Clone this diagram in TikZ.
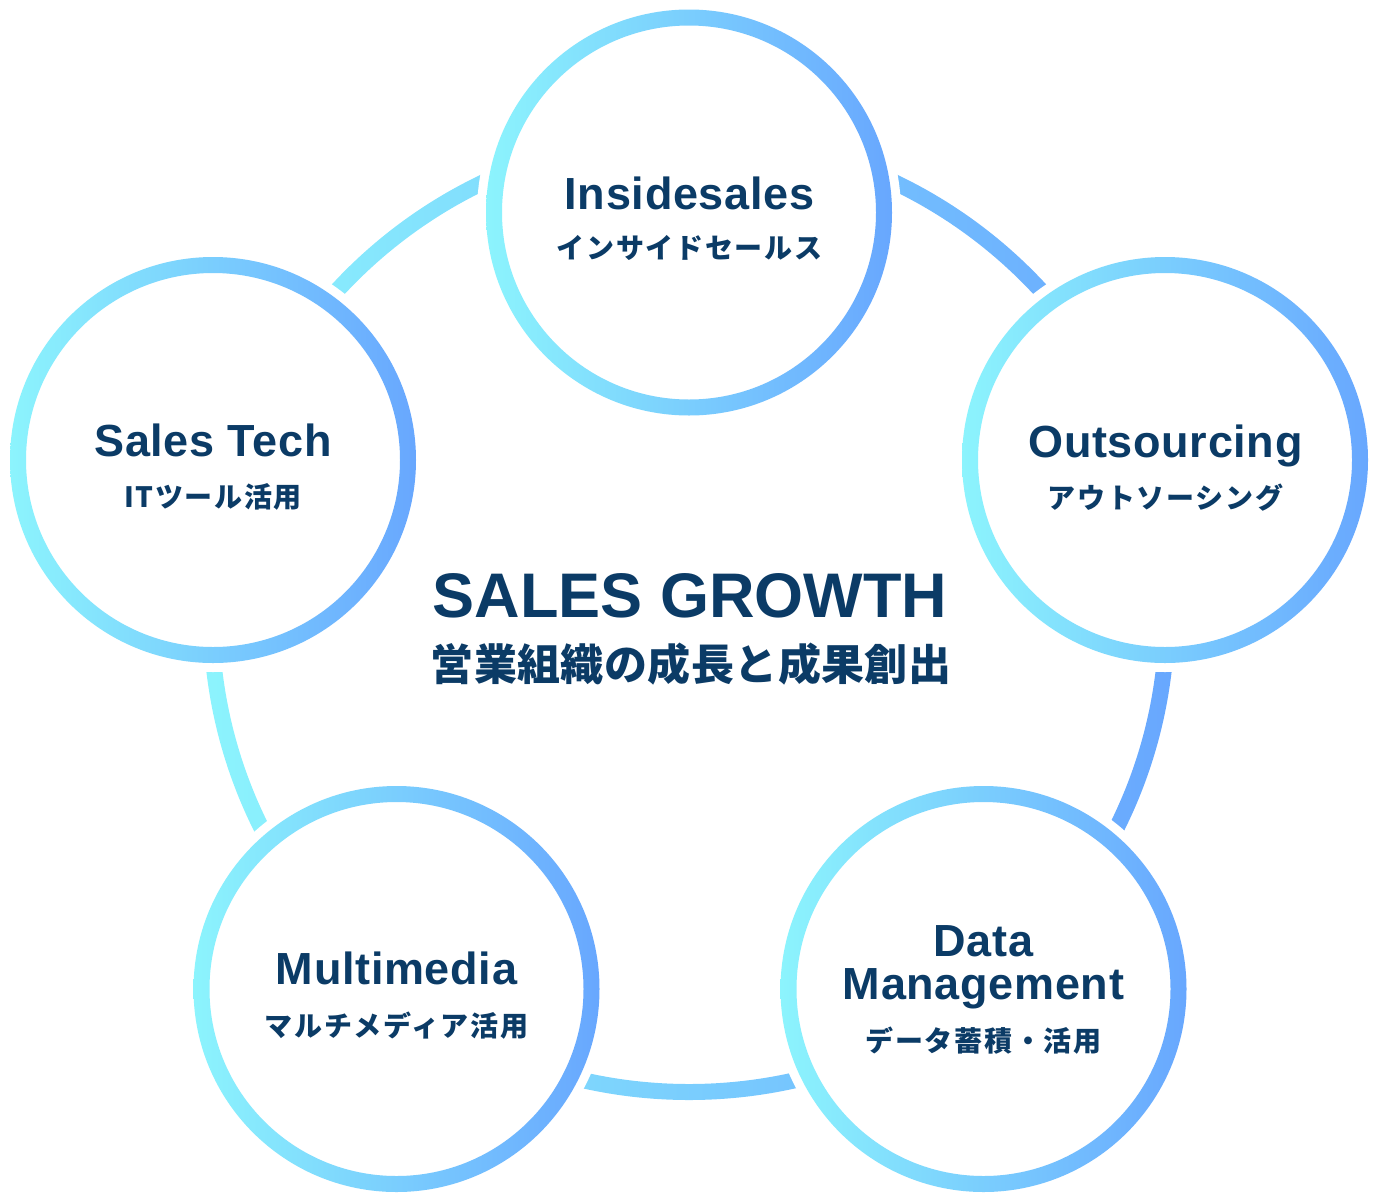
\documentclass[tikz,border=0pt]{standalone}
\usepackage{fontspec}
\newfontfamily\enfont{Liberation Sans}[LetterSpace=1.5]
\newfontfamily\headfont{Liberation Sans}
\newfontfamily\jpfont{Noto Sans CJK JP}[LetterSpace=6]
\newfontfamily\jpheadfont{Noto Sans CJK JP}[LetterSpace=1]
\definecolor{navy}{HTML}{0B3B66}
\definecolor{ringcyan}{HTML}{8CF4FD}
\definecolor{ringblue}{HTML}{68A7FE}

\begin{document}
\begin{tikzpicture}[x=1pt, y=-1pt,
    stage/.style={circle, fill=white, minimum size=424pt, inner sep=0pt},
    band/.style={left color=ringcyan, right color=ringblue, even odd rule},
    stagename/.style={anchor=base, inner sep=0pt, text=navy, font=\enfont\bfseries\fontsize{45}{45}\selectfont},
    stagekana/.style={anchor=base, inner sep=0pt, text=navy, font=\jpfont\bfseries\fontsize{28}{28}\selectfont}]
  \useasboundingbox (0,0) rectangle (1378,1202);

  % the big ring, cut by the stages
  \shade[band] (689,614) circle (486) (689,614) circle (470);

  \node[stage] (inside) at (689,212.5) {};
  \node[stage] (tech) at (213,460) {};
  \node[stage] (outsource) at (1165,460) {};
  \node[stage] (data) at (983.5,989) {};
  \node[stage] (media) at (396.5,989) {};

  \shade[band] (inside.center) circle (203) (inside.center) circle (187);
  \shade[band] (tech.center) circle (203) (tech.center) circle (187);
  \shade[band] (outsource.center) circle (203) (outsource.center) circle (187);
  \shade[band] (data.center) circle (203) (data.center) circle (187);
  \shade[band] (media.center) circle (203) (media.center) circle (187);

  \node[stagename] (inside-en) at (689.5,209) {Insidesales};
  \node[stagekana] (inside-jp) at (689.5,258) {インサイドセールス};
  \node[stagename] (tech-en) at (213,456) {Sales Tech};
  \node[stagekana] (tech-jp) at (213,507) {ITツール活用};
  \node[stagename] (outsource-en) at (1165.5,457) {Outsourcing};
  \node[stagekana] (outsource-jp) at (1165.5,508) {アウトソーシング};
  \node[stagename] (data-en) at (983.5,956) {Data};
  \node[stagename] (data-en2) at (983.5,999) {Management};
  \node[stagekana] (data-jp) at (983.5,1051) {データ蓄積・活用};
  \node[stagename] (media-en) at (396.5,984) {Multimedia};
  \node[stagekana] (media-jp) at (396.5,1036) {マルチメディア活用};

  \node[stagename, font=\headfont\bfseries\fontsize{63}{63}\selectfont] (growth) at (690,617) {SALES GROWTH};
  \node[stagekana, font=\jpheadfont\bfseries\fontsize{43}{43}\selectfont] (growth-jp) at (691,680) {営業組織の成長と成果創出};
\end{tikzpicture}
\end{document}
